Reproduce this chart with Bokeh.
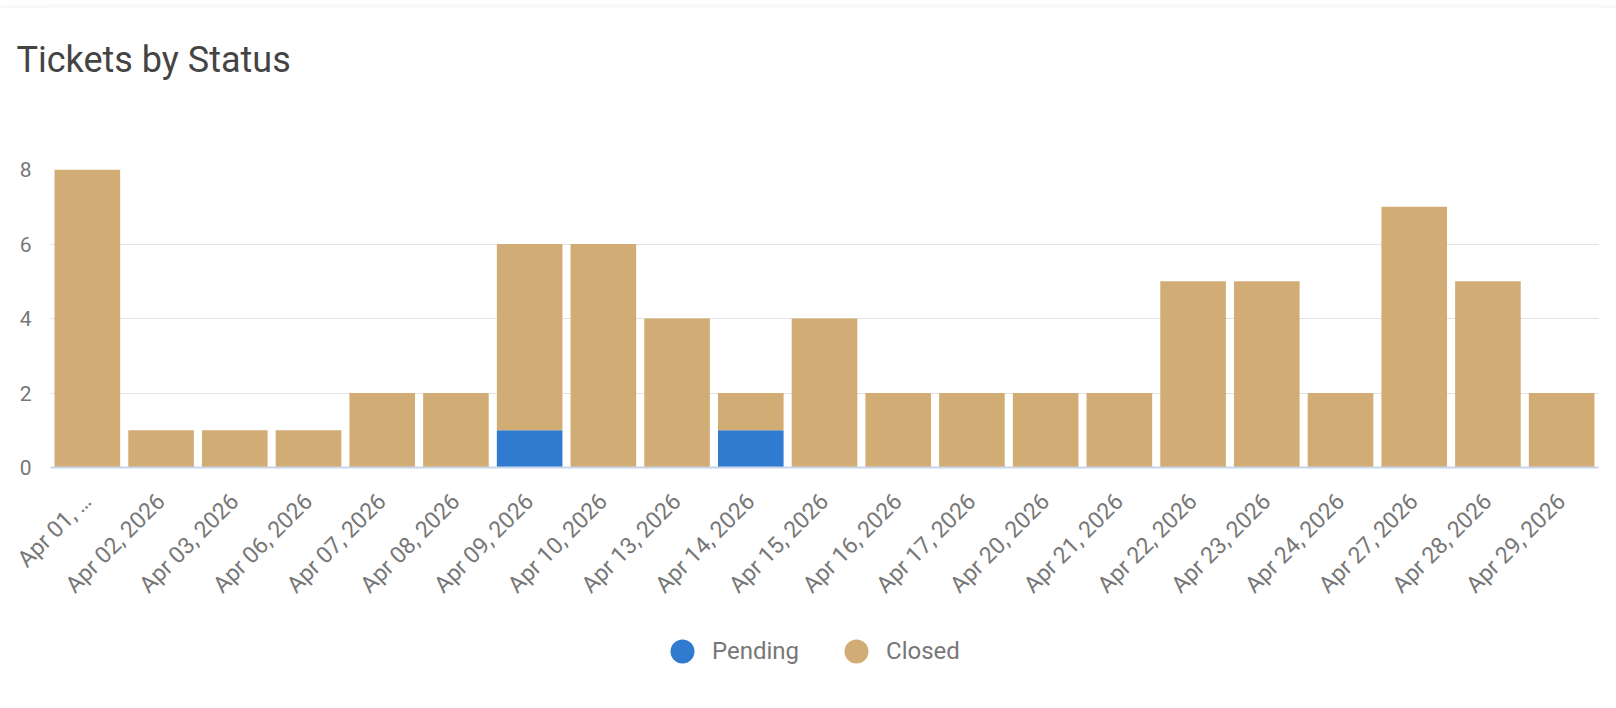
import math
from bokeh.plotting import figure
from bokeh.layouts import column
from bokeh.models import (FactorRange, Range1d, FixedTicker, Legend, Title,
                          LegendItem, ColumnDataSource)
from bokeh.embed import file_html
from bokeh.resources import INLINE

tick_labels = ["Apr 01, …", "Apr 02, 2026", "Apr 03, 2026", "Apr 06, 2026",
               "Apr 07, 2026", "Apr 08, 2026", "Apr 09, 2026", "Apr 10, 2026",
               "Apr 13, 2026", "Apr 14, 2026", "Apr 15, 2026", "Apr 16, 2026",
               "Apr 17, 2026", "Apr 20, 2026", "Apr 21, 2026", "Apr 22, 2026",
               "Apr 23, 2026", "Apr 24, 2026", "Apr 27, 2026", "Apr 28, 2026",
               "Apr 29, 2026"]
pending = [0, 0, 0, 0, 0, 0, 1, 0, 0, 1, 0, 0, 0, 0, 0, 0, 0, 0, 0, 0, 0]
closed = [8, 1, 1, 1, 2, 2, 5, 6, 4, 1, 4, 2, 2, 2, 2, 5, 5, 2, 7, 5, 2]
statuses = ["Pending", "Closed"]
colors = ["#307BD0", "#D2AC75"]
y_ticks = [0, 2, 4, 6, 8]
title_text = "Tickets by Status"

FONT = "Roboto"
W = 1616


def strip(height, fill="white", top=0):
    f = figure(width=W, height=height, output_backend="svg",
               toolbar_location=None, x_axis_location=None,
               y_axis_location=None, x_range=Range1d(0, 1),
               y_range=Range1d(0, 1), min_border_left=0,
               min_border_right=0, min_border_top=top, min_border_bottom=0)
    f.grid.visible = False
    f.outline_line_color = None
    f.background_fill_color = fill
    f.border_fill_color = fill
    return f


# ---- page background above the card and the card's top edge ----
ts = strip(8, "#f8f8f8")
tl = strip(2, "#b8b8b8")

# ---- title strip ----
tf = strip(90, top=75)
tf.title = Title(text=title_text, align="left", offset=-34, standoff=10,
                 text_font_size="36px", text_color="#444444", text_font=FONT,
                 text_font_style="normal")

# ---- main chart ----
source = ColumnDataSource(data=dict(date=tick_labels, Pending=pending, Closed=closed))

p = figure(x_range=FactorRange(*tick_labels), y_range=Range1d(0, 8),
           width=W, height=510, output_backend="svg", toolbar_location=None,
           min_border_left=50, min_border_right=18, min_border_top=69,
           min_border_bottom=143)
p.outline_line_color = None

p.vbar_stack(statuses, x="date", width=0.89, color=colors, line_color=None,
             source=source)

p.xgrid.visible = False
p.ygrid.grid_line_color = "#e3e3e3"
p.ygrid.grid_line_width = 1

p.yaxis.ticker = FixedTicker(ticks=y_ticks)
p.yaxis.axis_line_color = None
p.yaxis.major_tick_line_color = None
p.yaxis.minor_tick_line_color = None
p.yaxis.major_label_standoff = 13
p.yaxis.major_label_text_font_size = "21px"
p.yaxis.major_label_text_color = "#777777"
p.yaxis.major_label_text_font = FONT

p.xaxis.axis_line_color = "#c8d6ea"
p.xaxis.axis_line_width = 2
p.xaxis.major_tick_line_color = None
p.xaxis.minor_tick_line_color = None
p.xaxis.major_label_orientation = math.pi / 4
p.xaxis.major_label_standoff = 24
p.xaxis.major_label_text_font_size = "23px"
p.xaxis.major_label_text_color = "#777777"
p.xaxis.major_label_text_font = FONT

# ---- legend strip ----
lf = strip(90)
leg_src = ColumnDataSource(data=dict(x=[-100], y=[-100]))
r_p = lf.scatter("x", "y", source=leg_src, marker="circle", size=24,
                 fill_color=colors[0], line_color=None)
r_c = lf.scatter("x", "y", source=leg_src, marker="circle", size=24,
                 fill_color=colors[1], line_color=None)
legend = Legend(items=[LegendItem(label=statuses[0], renderers=[r_p]),
                       LegendItem(label=statuses[1], renderers=[r_c])],
                orientation="horizontal", location=(602, 19),
                glyph_width=60, glyph_height=60, label_standoff=-13, spacing=27,
                padding=0, margin=0, border_line_color=None,
                background_fill_alpha=0, label_text_font_size="24px",
                label_text_color="#777777", label_text_font=FONT,
                label_height=60)
lf.add_layout(legend)

layout = column(ts, tl, tf, p, lf, spacing=0)
open("out.html", "w").write(file_html(layout, INLINE))
